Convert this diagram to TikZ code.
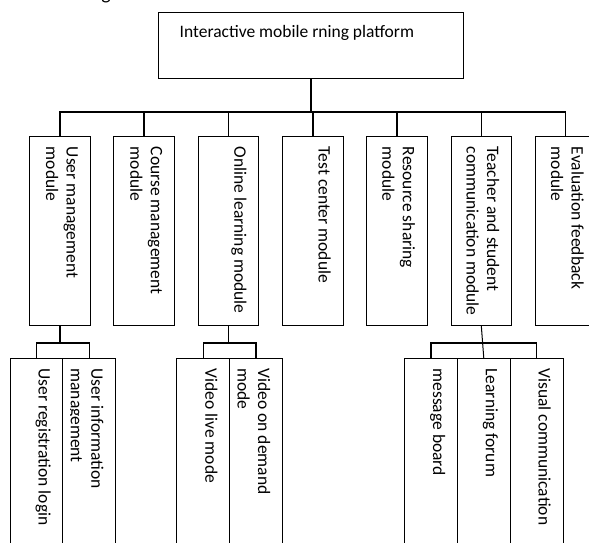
\documentclass[tikz,border=0pt]{standalone}
\usepackage{fontspec}
\setmainfont{Carlito}
\usetikzlibrary{positioning}

\begin{document}
\begin{tikzpicture}[x=1pt,y=-1pt,node distance=23.8pt,
                    box/.style={draw,line width=0.9pt,outer sep=0pt,inner sep=0pt},
                    mod/.style={box,minimum width=60.5pt,minimum height=189pt},
                    sub/.style={box,minimum width=52.8pt,minimum height=202pt},
                    txt/.style={rotate=-90,anchor=north west,inner sep=0pt,align=left,
                                font=\fontsize{17.5}{20.5}\selectfont},
                    link/.style={line width=1.6pt}]
\useasboundingbox (0,0) rectangle (589,542);
\clip (0,0) rectangle (589,542);

\node[inner sep=0pt,anchor=base,font=\fontsize{20}{24}\selectfont] (frag) at (106,-1) {g};

\node[box,minimum width=305pt,minimum height=66pt] (top) at (311,45) {};
\node[anchor=base west,inner sep=0pt,font=\fontsize{17.5}{20.5}\selectfont] (topt)
  at ([shift={(21,25.6)}]top.north west) {Interactive mobile rning platform};

\node[mod] (m1) at (59.8,231.2) {};
\node[mod,right=of m1] (m2) {};
\node[mod,right=of m2] (m3) {};
\node[mod,right=of m3] (m4) {};
\node[mod,right=of m4] (m5) {};
\node[mod,right=of m5] (m6) {};
\node[mod,right=of m6] (m7) {};

\node[txt] (m1t) at ([shift={(-12,10)}]m1.north east) {User management\\module};
\node[txt] (m2t) at ([shift={(-12,10)}]m2.north east) {Course management\\module};
\node[txt] (m3t) at ([shift={(-12,10)}]m3.north east) {Online learning module};
\node[txt] (m4t) at ([shift={(-12,10)}]m4.north east) {Test center module};
\node[txt] (m5t) at ([shift={(-12,10)}]m5.north east) {Resource sharing\\module};
\node[txt] (m6t) at ([shift={(-12,10)}]m6.north east) {Teacher and student\\communication module};
\node[txt] (m7t) at ([shift={(-12,10)}]m7.north east) {Evaluation feedback\\module};

\draw[link] (top.south) -- ++(0,34);
\draw[link] (m1.north) -- ++(0,-24.7) -| (m7.north);
\foreach \n in {m2,m3,m4,m5,m6}
  \draw[link] (\n.north) -- ++(0,-24.7);

\node[sub] (u1) at (36.5,459.3) {};
\node[sub,right=0pt of u1] (u2) {};
\node[sub] (v1) at (203.3,459.3) {};
\node[sub,right=0pt of v1] (v2) {};
\node[sub] (c1) at (431,459.3) {};
\node[sub,right=0pt of c1] (c2) {};
\node[sub,right=0pt of c2] (c3) {};

\node[txt] (u1t) at ([shift={(-12,10)}]u1.north east) {User registration login};
\begin{scope}
  \clip ([xshift=8pt]u2.north west) rectangle (u2.south east);
  \node[txt] (u2t) at ([shift={(-12,10)}]u2.north east) {User information\\management};
\end{scope}
\node[txt] (v1t) at ([shift={(-12,10)}]v1.north east) {Video live mode};
\begin{scope}
  \clip ([xshift=7.5pt]v2.north west) rectangle (v2.south east);
  \node[txt] (v2t) at ([shift={(-12,10)}]v2.north east) {Video on demand\\mode};
\end{scope}
\node[txt] (c1t) at ([shift={(-12,10)}]c1.north east) {message board};
\node[txt] (c2t) at ([shift={(-12,10)}]c2.north east) {Learning forum};
\node[txt] (c3t) at ([shift={(-12,10)}]c3.north east) {Visual communication};

\draw[link] (m1.south) -- ++(0,17);
\draw[link] (u1.north) -- ++(0,-15.6) -| (u2.north);
\draw[link] (m3.south) -- ++(0,17);
\draw[link] (v1.north) -- ++(0,-15.6) -| (v2.north);
\draw[link] (c1.north) -- ++(0,-15.6) -| (c3.north);
\draw[line width=1pt] (m6.south) -- (c2.north);
\end{tikzpicture}
\end{document}
